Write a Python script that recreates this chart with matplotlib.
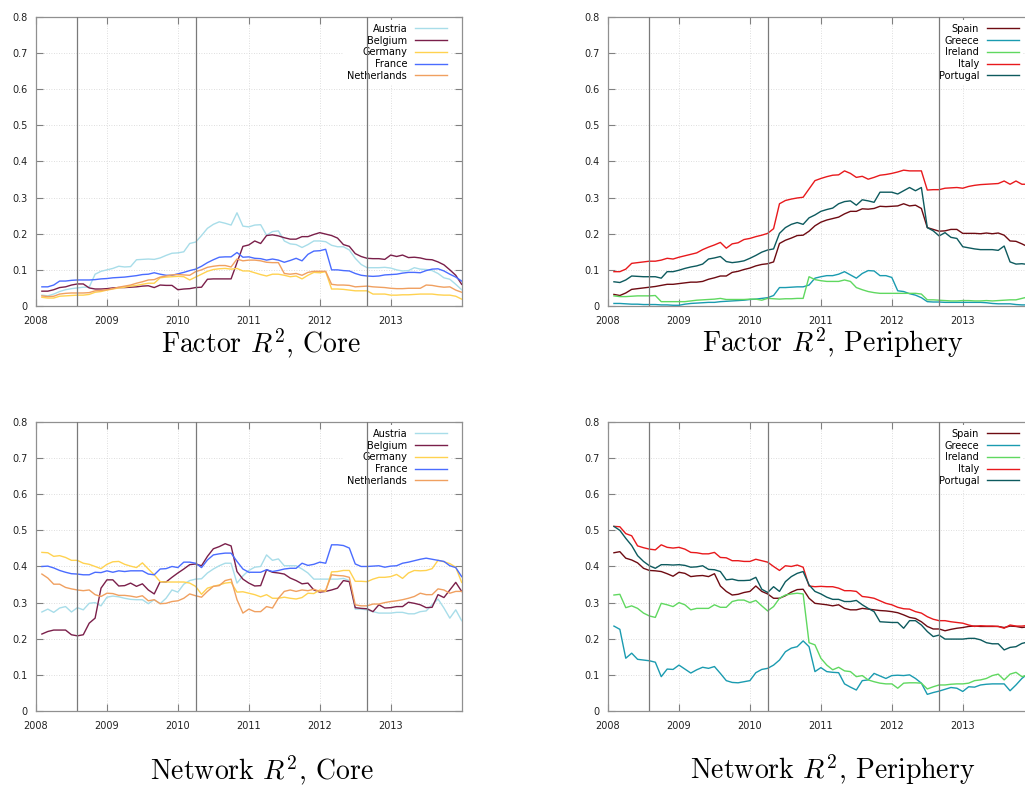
import numpy as np
import matplotlib.pyplot as plt

plt.rcParams['font.family'] = 'DejaVu Sans'
plt.rcParams['mathtext.fontset'] = 'cm'

# monthly observations, Feb 2008 .. Jan 2014 (decimal years)
months = 2008 + np.arange(1, 73) / 12
events = [2008 + 7 / 12, 2010 + 3 / 12, 2012 + 8 / 12]

core_names = ['Austria', 'Belgium', 'Germany', 'France', 'Netherlands']
core_colors = ['#a8dde9', '#7a1f4a', '#ffd250', '#4a6cff', '#f0a060']
per_names = ['Spain', 'Greece', 'Ireland', 'Italy', 'Portugal']
per_colors = ['#6e0b12', '#1a9bb0', '#60d860', '#e8191c', '#0d5a5e']

# ---- Factor R^2, core
fac_austria = [0.030, 0.028, 0.033, 0.040, 0.045, 0.048, 0.050, 0.052, 0.052, 0.088, 0.096, 0.100,
               0.104, 0.110, 0.108, 0.109, 0.128, 0.129, 0.130, 0.129, 0.133, 0.140, 0.146, 0.147,
               0.150, 0.173, 0.177, 0.195, 0.215, 0.226, 0.233, 0.229, 0.224, 0.258, 0.221, 0.219,
               0.224, 0.225, 0.196, 0.206, 0.208, 0.180, 0.172, 0.170, 0.162, 0.170, 0.180, 0.180,
               0.178, 0.168, 0.164, 0.164, 0.155, 0.132, 0.115, 0.106, 0.106, 0.106, 0.107, 0.105,
               0.100, 0.097, 0.098, 0.106, 0.102, 0.101, 0.098, 0.090, 0.078, 0.074, 0.060, 0.045]
fac_belgium = [0.041, 0.041, 0.045, 0.051, 0.053, 0.058, 0.061, 0.061, 0.050, 0.047, 0.047, 0.048,
               0.050, 0.051, 0.051, 0.052, 0.053, 0.055, 0.056, 0.051, 0.058, 0.057, 0.057, 0.045,
               0.047, 0.048, 0.051, 0.052, 0.074, 0.075, 0.075, 0.075, 0.075, 0.120, 0.165, 0.169,
               0.180, 0.173, 0.195, 0.197, 0.194, 0.189, 0.185, 0.185, 0.192, 0.192, 0.198, 0.203,
               0.199, 0.195, 0.188, 0.170, 0.165, 0.145, 0.137, 0.132, 0.131, 0.131, 0.129, 0.141,
               0.137, 0.141, 0.134, 0.135, 0.133, 0.129, 0.128, 0.122, 0.114, 0.100, 0.085, 0.060]
fac_germany = [0.024, 0.022, 0.022, 0.027, 0.028, 0.029, 0.030, 0.030, 0.032, 0.038, 0.040, 0.044,
               0.047, 0.050, 0.052, 0.055, 0.057, 0.060, 0.063, 0.063, 0.078, 0.080, 0.081, 0.082,
               0.081, 0.072, 0.080, 0.088, 0.096, 0.101, 0.103, 0.104, 0.102, 0.104, 0.097, 0.097,
               0.092, 0.087, 0.083, 0.088, 0.088, 0.085, 0.081, 0.083, 0.075, 0.085, 0.093, 0.092,
               0.095, 0.047, 0.047, 0.046, 0.044, 0.042, 0.042, 0.042, 0.033, 0.033, 0.033, 0.030,
               0.030, 0.031, 0.031, 0.032, 0.033, 0.033, 0.033, 0.031, 0.030, 0.030, 0.027, 0.019]
fac_france = [0.053, 0.053, 0.058, 0.069, 0.069, 0.071, 0.072, 0.072, 0.072, 0.073, 0.075, 0.076,
              0.078, 0.079, 0.080, 0.082, 0.084, 0.087, 0.088, 0.092, 0.088, 0.085, 0.085, 0.089,
              0.093, 0.098, 0.102, 0.110, 0.120, 0.128, 0.135, 0.136, 0.136, 0.148, 0.135, 0.136,
              0.132, 0.131, 0.127, 0.130, 0.127, 0.121, 0.126, 0.132, 0.125, 0.143, 0.152, 0.153,
              0.157, 0.100, 0.100, 0.098, 0.097, 0.090, 0.085, 0.083, 0.082, 0.083, 0.086, 0.087,
              0.088, 0.091, 0.093, 0.093, 0.092, 0.098, 0.102, 0.103, 0.097, 0.088, 0.080, 0.069]
fac_netherlands = [0.028, 0.026, 0.027, 0.033, 0.035, 0.036, 0.036, 0.036, 0.037, 0.042, 0.043, 0.045,
                   0.048, 0.052, 0.055, 0.058, 0.063, 0.067, 0.072, 0.073, 0.080, 0.083, 0.086, 0.087,
                   0.086, 0.085, 0.095, 0.100, 0.107, 0.110, 0.112, 0.112, 0.108, 0.130, 0.125, 0.127,
                   0.127, 0.125, 0.121, 0.120, 0.120, 0.090, 0.088, 0.090, 0.085, 0.093, 0.096, 0.096,
                   0.096, 0.060, 0.058, 0.058, 0.057, 0.053, 0.054, 0.055, 0.053, 0.052, 0.051, 0.049,
                   0.048, 0.048, 0.049, 0.049, 0.049, 0.058, 0.057, 0.054, 0.052, 0.053, 0.044, 0.038]

# ---- Factor R^2, periphery
fac_spain = [0.032, 0.029, 0.036, 0.046, 0.048, 0.050, 0.052, 0.054, 0.057, 0.060, 0.060, 0.062,
             0.064, 0.066, 0.066, 0.068, 0.074, 0.078, 0.083, 0.083, 0.093, 0.096, 0.101, 0.105,
             0.111, 0.115, 0.117, 0.122, 0.173, 0.182, 0.188, 0.195, 0.196, 0.207, 0.222, 0.232,
             0.238, 0.242, 0.246, 0.255, 0.262, 0.262, 0.269, 0.268, 0.270, 0.276, 0.275, 0.276,
             0.277, 0.283, 0.277, 0.279, 0.270, 0.217, 0.212, 0.207, 0.208, 0.212, 0.212, 0.201,
             0.201, 0.201, 0.200, 0.202, 0.200, 0.202, 0.196, 0.180, 0.179, 0.172, 0.164, 0.160]
fac_greece = [0.007, 0.007, 0.006, 0.005, 0.005, 0.004, 0.004, 0.004, 0.003, 0.003, 0.002, 0.002,
              0.005, 0.007, 0.008, 0.009, 0.010, 0.010, 0.012, 0.013, 0.014, 0.015, 0.016, 0.018,
              0.019, 0.021, 0.023, 0.029, 0.051, 0.051, 0.052, 0.053, 0.053, 0.058, 0.077, 0.081,
              0.084, 0.084, 0.088, 0.095, 0.086, 0.077, 0.090, 0.098, 0.097, 0.084, 0.084, 0.079,
              0.042, 0.040, 0.034, 0.030, 0.023, 0.012, 0.011, 0.011, 0.010, 0.010, 0.010, 0.010,
              0.010, 0.010, 0.010, 0.009, 0.007, 0.006, 0.006, 0.006, 0.004, 0.003, 0.003, 0.003]
fac_ireland = [0.028, 0.026, 0.026, 0.027, 0.028, 0.028, 0.028, 0.029, 0.012, 0.012, 0.012, 0.012,
               0.012, 0.014, 0.016, 0.017, 0.018, 0.019, 0.021, 0.018, 0.018, 0.018, 0.018, 0.019,
               0.019, 0.016, 0.021, 0.020, 0.019, 0.020, 0.020, 0.021, 0.021, 0.081, 0.073, 0.070,
               0.068, 0.068, 0.068, 0.072, 0.068, 0.051, 0.045, 0.040, 0.037, 0.035, 0.035, 0.035,
               0.035, 0.035, 0.035, 0.035, 0.033, 0.017, 0.017, 0.016, 0.015, 0.014, 0.014, 0.015,
               0.015, 0.014, 0.014, 0.015, 0.014, 0.015, 0.016, 0.017, 0.017, 0.021, 0.025, 0.028]
fac_italy = [0.095, 0.095, 0.102, 0.118, 0.120, 0.122, 0.124, 0.124, 0.127, 0.132, 0.130, 0.135,
             0.139, 0.143, 0.147, 0.156, 0.163, 0.169, 0.176, 0.160, 0.172, 0.175, 0.184, 0.187,
             0.192, 0.196, 0.201, 0.214, 0.283, 0.292, 0.296, 0.299, 0.301, 0.324, 0.347, 0.353,
             0.358, 0.362, 0.363, 0.374, 0.367, 0.356, 0.359, 0.351, 0.356, 0.362, 0.364, 0.367,
             0.371, 0.376, 0.374, 0.374, 0.374, 0.321, 0.322, 0.322, 0.326, 0.327, 0.328, 0.326,
             0.331, 0.334, 0.336, 0.337, 0.338, 0.339, 0.346, 0.337, 0.346, 0.337, 0.337, 0.336]
fac_portugal = [0.067, 0.065, 0.072, 0.083, 0.082, 0.081, 0.081, 0.081, 0.077, 0.095, 0.095, 0.099,
                0.104, 0.108, 0.111, 0.116, 0.130, 0.133, 0.137, 0.123, 0.120, 0.122, 0.125, 0.132,
                0.140, 0.149, 0.155, 0.158, 0.201, 0.217, 0.226, 0.231, 0.226, 0.244, 0.252, 0.262,
                0.267, 0.271, 0.283, 0.289, 0.291, 0.279, 0.294, 0.291, 0.287, 0.315, 0.315, 0.315,
                0.310, 0.319, 0.328, 0.319, 0.328, 0.217, 0.208, 0.194, 0.203, 0.190, 0.187, 0.164,
                0.161, 0.158, 0.156, 0.156, 0.156, 0.154, 0.166, 0.122, 0.116, 0.117, 0.115, 0.113]

# ---- Network R^2, core
net_austria = [0.274, 0.282, 0.273, 0.285, 0.289, 0.274, 0.286, 0.280, 0.298, 0.300, 0.291, 0.315,
               0.318, 0.316, 0.312, 0.309, 0.308, 0.308, 0.297, 0.308, 0.297, 0.312, 0.335, 0.329,
               0.351, 0.361, 0.365, 0.366, 0.382, 0.393, 0.402, 0.409, 0.409, 0.354, 0.374, 0.389,
               0.398, 0.400, 0.432, 0.417, 0.421, 0.402, 0.402, 0.402, 0.393, 0.382, 0.365, 0.365,
               0.365, 0.365, 0.365, 0.367, 0.361, 0.282, 0.282, 0.280, 0.275, 0.271, 0.271, 0.271,
               0.273, 0.273, 0.269, 0.269, 0.275, 0.277, 0.294, 0.310, 0.285, 0.257, 0.280, 0.250]
net_belgium = [0.213, 0.220, 0.224, 0.224, 0.224, 0.211, 0.208, 0.211, 0.243, 0.257, 0.340, 0.363,
               0.363, 0.346, 0.347, 0.354, 0.345, 0.352, 0.335, 0.324, 0.358, 0.357, 0.370, 0.382,
               0.393, 0.405, 0.407, 0.402, 0.428, 0.449, 0.455, 0.463, 0.457, 0.386, 0.365, 0.354,
               0.346, 0.347, 0.391, 0.384, 0.382, 0.379, 0.368, 0.361, 0.352, 0.354, 0.335, 0.329,
               0.331, 0.335, 0.340, 0.361, 0.358, 0.286, 0.284, 0.283, 0.275, 0.294, 0.285, 0.286,
               0.289, 0.289, 0.301, 0.298, 0.294, 0.286, 0.287, 0.322, 0.314, 0.335, 0.356, 0.331]
net_germany = [0.439, 0.438, 0.428, 0.430, 0.425, 0.417, 0.417, 0.409, 0.406, 0.400, 0.394, 0.406,
               0.413, 0.414, 0.406, 0.401, 0.397, 0.410, 0.393, 0.377, 0.358, 0.357, 0.357, 0.357,
               0.357, 0.354, 0.345, 0.323, 0.340, 0.345, 0.349, 0.354, 0.356, 0.329, 0.330, 0.326,
               0.322, 0.316, 0.322, 0.312, 0.312, 0.315, 0.312, 0.310, 0.314, 0.326, 0.325, 0.335,
               0.331, 0.385, 0.386, 0.389, 0.389, 0.359, 0.359, 0.358, 0.365, 0.370, 0.370, 0.372,
               0.378, 0.367, 0.382, 0.389, 0.388, 0.389, 0.394, 0.417, 0.413, 0.408, 0.398, 0.356]
net_france = [0.400, 0.401, 0.396, 0.389, 0.384, 0.380, 0.379, 0.377, 0.377, 0.384, 0.383, 0.388,
              0.384, 0.388, 0.386, 0.388, 0.388, 0.388, 0.379, 0.377, 0.393, 0.394, 0.400, 0.397,
              0.412, 0.412, 0.409, 0.397, 0.418, 0.432, 0.435, 0.437, 0.437, 0.414, 0.393, 0.384,
              0.384, 0.384, 0.391, 0.386, 0.389, 0.393, 0.395, 0.395, 0.409, 0.403, 0.406, 0.412,
              0.409, 0.460, 0.460, 0.458, 0.451, 0.407, 0.400, 0.400, 0.401, 0.402, 0.398, 0.401,
              0.402, 0.409, 0.412, 0.416, 0.420, 0.423, 0.420, 0.417, 0.414, 0.402, 0.397, 0.372]
net_netherlands = [0.379, 0.368, 0.351, 0.351, 0.342, 0.338, 0.335, 0.333, 0.335, 0.322, 0.317, 0.326,
                   0.325, 0.320, 0.320, 0.318, 0.315, 0.319, 0.305, 0.308, 0.297, 0.298, 0.303, 0.305,
                   0.312, 0.324, 0.319, 0.315, 0.331, 0.345, 0.347, 0.361, 0.365, 0.308, 0.271, 0.282,
                   0.275, 0.275, 0.289, 0.285, 0.312, 0.331, 0.335, 0.331, 0.335, 0.333, 0.337, 0.331,
                   0.334, 0.377, 0.375, 0.374, 0.370, 0.294, 0.291, 0.291, 0.296, 0.296, 0.300, 0.303,
                   0.305, 0.308, 0.312, 0.317, 0.326, 0.322, 0.322, 0.338, 0.335, 0.326, 0.331, 0.331]

# ---- Network R^2, periphery
net_spain = [0.438, 0.441, 0.423, 0.418, 0.410, 0.395, 0.389, 0.388, 0.386, 0.380, 0.373, 0.384,
             0.381, 0.372, 0.374, 0.375, 0.372, 0.380, 0.346, 0.331, 0.321, 0.323, 0.328, 0.331,
             0.346, 0.331, 0.324, 0.312, 0.312, 0.319, 0.329, 0.336, 0.337, 0.312, 0.298, 0.296,
             0.294, 0.291, 0.294, 0.284, 0.280, 0.280, 0.284, 0.282, 0.280, 0.278, 0.277, 0.275,
             0.272, 0.266, 0.259, 0.256, 0.247, 0.234, 0.227, 0.227, 0.222, 0.226, 0.229, 0.231,
             0.234, 0.235, 0.234, 0.234, 0.234, 0.234, 0.231, 0.235, 0.234, 0.231, 0.233, 0.235]
net_greece = [0.235, 0.226, 0.146, 0.160, 0.143, 0.141, 0.139, 0.135, 0.095, 0.116, 0.115, 0.127,
              0.116, 0.105, 0.114, 0.121, 0.118, 0.123, 0.104, 0.084, 0.079, 0.078, 0.081, 0.084,
              0.106, 0.115, 0.118, 0.127, 0.141, 0.164, 0.174, 0.178, 0.194, 0.178, 0.109, 0.120,
              0.109, 0.107, 0.106, 0.075, 0.066, 0.058, 0.084, 0.086, 0.104, 0.097, 0.090, 0.098,
              0.099, 0.098, 0.100, 0.090, 0.077, 0.046, 0.051, 0.055, 0.060, 0.065, 0.063, 0.054,
              0.067, 0.066, 0.072, 0.074, 0.075, 0.075, 0.075, 0.056, 0.072, 0.090, 0.103, 0.110]
net_ireland = [0.321, 0.323, 0.286, 0.291, 0.284, 0.271, 0.263, 0.259, 0.298, 0.294, 0.289, 0.300,
               0.294, 0.280, 0.284, 0.284, 0.284, 0.294, 0.287, 0.287, 0.303, 0.307, 0.307, 0.300,
               0.306, 0.291, 0.277, 0.289, 0.312, 0.321, 0.324, 0.326, 0.324, 0.189, 0.183, 0.146,
               0.127, 0.114, 0.121, 0.111, 0.109, 0.095, 0.098, 0.086, 0.081, 0.077, 0.075, 0.075,
               0.063, 0.077, 0.078, 0.078, 0.077, 0.061, 0.067, 0.072, 0.072, 0.074, 0.075, 0.075,
               0.077, 0.084, 0.086, 0.090, 0.098, 0.102, 0.086, 0.102, 0.107, 0.095, 0.100, 0.103]
net_italy = [0.511, 0.510, 0.491, 0.485, 0.457, 0.452, 0.448, 0.446, 0.460, 0.453, 0.451, 0.453,
             0.448, 0.439, 0.438, 0.435, 0.435, 0.439, 0.425, 0.424, 0.416, 0.416, 0.414, 0.414,
             0.420, 0.416, 0.412, 0.400, 0.389, 0.402, 0.400, 0.404, 0.398, 0.346, 0.344, 0.345,
             0.344, 0.344, 0.340, 0.333, 0.333, 0.331, 0.317, 0.315, 0.312, 0.305, 0.298, 0.294,
             0.287, 0.283, 0.282, 0.275, 0.271, 0.261, 0.254, 0.250, 0.250, 0.247, 0.245, 0.243,
             0.238, 0.234, 0.236, 0.235, 0.235, 0.234, 0.229, 0.238, 0.235, 0.235, 0.237, 0.236]
net_portugal = [0.511, 0.500, 0.478, 0.458, 0.430, 0.414, 0.402, 0.395, 0.405, 0.405, 0.404, 0.405,
                0.403, 0.398, 0.399, 0.402, 0.392, 0.391, 0.386, 0.363, 0.365, 0.361, 0.361, 0.362,
                0.370, 0.337, 0.328, 0.344, 0.331, 0.358, 0.372, 0.381, 0.386, 0.349, 0.331, 0.324,
                0.315, 0.309, 0.309, 0.303, 0.303, 0.306, 0.294, 0.284, 0.275, 0.247, 0.246, 0.245,
                0.245, 0.229, 0.250, 0.250, 0.238, 0.220, 0.206, 0.210, 0.199, 0.199, 0.199, 0.199,
                0.201, 0.201, 0.197, 0.189, 0.186, 0.186, 0.169, 0.176, 0.178, 0.187, 0.191, 0.193]

fig = plt.figure(figsize=(10.25, 7.87), dpi=100)


def panel(rect, series, names, colors, caption, cap_x, cap_base):
    ax = fig.add_axes(rect)
    for vals, name, col in zip(series, names, colors):
        ax.plot(months, vals, color=col, lw=1.0, label=name, zorder=3)
    for e in events:
        ax.axvline(e, color='#7a7a7a', lw=0.9, zorder=4)
    ax.set_xlim(2008, 2014)
    ax.set_ylim(0, 0.8)
    ax.set_xticks(range(2008, 2014))
    yt = np.arange(0, 9) / 10
    ax.set_yticks(yt)
    ax.set_yticklabels(['0'] + ['%.1f' % v for v in yt[1:]])
    ax.grid(color='#d4d4d4', ls=(0, (1, 2)), lw=0.6)
    ax.tick_params(direction='in', top=True, right=True, length=5, width=0.8,
                   color='#808080', labelsize=7, pad=6, labelcolor='#222222')
    ax.tick_params(axis='x', pad=7)
    for s in ax.spines.values():
        s.set_color('#909090')
        s.set_linewidth(0.9)
    # legend box: line samples end ~15 px inside the right edge
    w_px = rect[2] * 1025
    h_px = rect[3] * 787
    leg = ax.legend(loc='upper right', bbox_to_anchor=(1 - 10.8 / w_px, 1 - 3 / h_px),
                    markerfirst=False, fontsize=7,
                    handlelength=3.3, handletextpad=0.8, labelspacing=0.18,
                    borderpad=0.4, borderaxespad=0.0, frameon=True,
                    fancybox=False, framealpha=1, edgecolor='none')
    leg.set_zorder(3.5)
    fig.text(cap_x, 1 - cap_base / 787, caption, ha='center', va='baseline',
             fontsize=20, family='cmr10')
    return ax


W = 0.4153
H = 0.3672
panel([0.0351, 0.6112, W, H],
      [fac_austria, fac_belgium, fac_germany, fac_france, fac_netherlands],
      core_names, core_colors, 'Factor $R^2$, Core', 261 / 1025, 352)
panel([0.5932, 0.6112, W, H],
      [fac_spain, fac_greece, fac_ireland, fac_italy, fac_portugal],
      per_names, per_colors, 'Factor $R^2$, Periphery', 833 / 1025, 352)
panel([0.0351, 0.0966, W, H],
      [net_austria, net_belgium, net_germany, net_france, net_netherlands],
      core_names, core_colors, 'Network $R^2$, Core', 262 / 1025, 779)
panel([0.5932, 0.0966, W, H],
      [net_spain, net_greece, net_ireland, net_italy, net_portugal],
      per_names, per_colors, 'Network $R^2$, Periphery', 833 / 1025, 779)

fig.savefig('out.png', dpi=100)
